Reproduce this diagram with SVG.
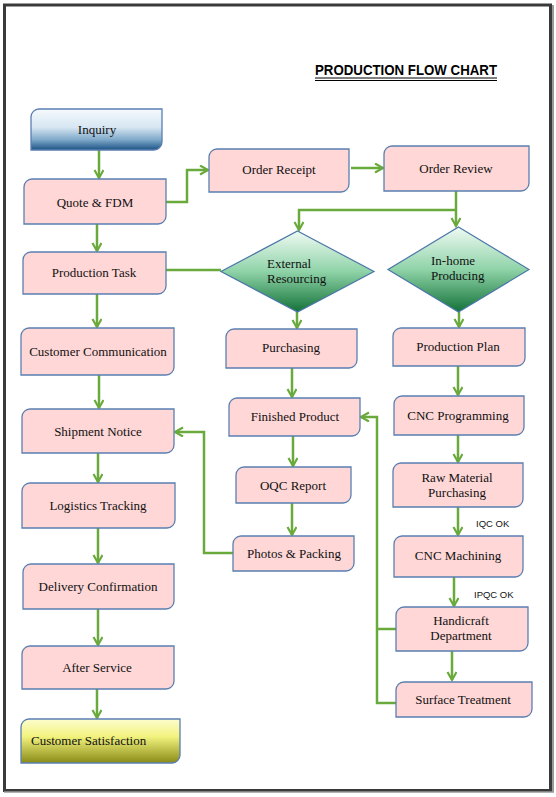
<svg xmlns="http://www.w3.org/2000/svg" width="556" height="797" viewBox="0 0 556 797">
<defs>
<linearGradient id="gBlue" x1="0" y1="0" x2="0" y2="1">
<stop offset="0" stop-color="#f6fafd"/>
<stop offset="0.45" stop-color="#d6e6f2"/>
<stop offset="0.75" stop-color="#7ea8c9"/>
<stop offset="1" stop-color="#1b5385"/>
</linearGradient>
<linearGradient id="gGreen" x1="0" y1="0" x2="0" y2="1">
<stop offset="0" stop-color="#f0faf3"/>
<stop offset="0.5" stop-color="#8fd3a8"/>
<stop offset="1" stop-color="#137238"/>
</linearGradient>
<linearGradient id="gYellow" x1="0" y1="0" x2="0" y2="1">
<stop offset="0" stop-color="#fdfdd0"/>
<stop offset="0.4" stop-color="#f2f27e"/>
<stop offset="1" stop-color="#8a8a16"/>
</linearGradient>
<marker id="arr" markerUnits="userSpaceOnUse" markerWidth="12" markerHeight="12" refX="9" refY="5" orient="auto">
<path d="M1,0.5 L9,5 L1,9.5" fill="none" stroke="#6aaa3c" stroke-width="2.2"/>
</marker>
</defs>
<style>
.box{fill:#ffd7d7;stroke:#5b7fb1;stroke-width:1.3}
.t{font-family:"Liberation Serif","DejaVu Serif",serif;font-size:13px;fill:#111;text-anchor:middle}
.tl{font-family:"Liberation Serif","DejaVu Serif",serif;font-size:13px;fill:#111}
.c{fill:none;stroke:#6aaa3c;stroke-width:2.5}
.lbl{font-family:"Liberation Sans",Arial,sans-serif;font-size:9.5px;fill:#111}
</style>
<rect x="0" y="0" width="556" height="797" fill="#fff"/>
<g id="frame">
<rect x="4.5" y="5" width="546" height="785.5" fill="none" stroke="#3a3a3a" stroke-width="3"/>
<line x1="553" y1="5" x2="553" y2="792" stroke="#9a9a9a" stroke-width="2"/>
<line x1="4" y1="792" x2="554" y2="792" stroke="#9a9a9a" stroke-width="1.5"/>
</g>
<g id="title">
<text x="315" y="75" font-family="'Liberation Sans',Arial,sans-serif" font-weight="bold" font-size="15.5" textLength="182" lengthAdjust="spacingAndGlyphs" fill="#000">PRODUCTION FLOW CHART</text>
<line x1="315" y1="78" x2="497" y2="78" stroke="#000" stroke-width="1"/>
<line x1="315" y1="80.5" x2="497" y2="80.5" stroke="#000" stroke-width="1"/>
</g>
<g id="connectors">
<path class="c" d="M99,150 V178" marker-end="url(#arr)"/>
<path class="c" d="M97,224 V251" marker-end="url(#arr)"/>
<path class="c" d="M166,202 H187 V170 H208" marker-end="url(#arr)"/>
<path class="c" d="M351,168 H383" marker-end="url(#arr)"/>
<path class="c" d="M456,191 V226" marker-end="url(#arr)"/>
<path class="c" d="M456,210 H299 V230" marker-end="url(#arr)"/>
<path class="c" d="M166,270 H221"/>
<path class="c" d="M97,294 V327" marker-end="url(#arr)"/>
<path class="c" d="M99,375 V408" marker-end="url(#arr)"/>
<path class="c" d="M98,453 V482" marker-end="url(#arr)"/>
<path class="c" d="M98,528 V563" marker-end="url(#arr)"/>
<path class="c" d="M98,609 V645" marker-end="url(#arr)"/>
<path class="c" d="M97,689 V718" marker-end="url(#arr)"/>
<path class="c" d="M297,312 V328" marker-end="url(#arr)"/>
<path class="c" d="M292,368 V397" marker-end="url(#arr)"/>
<path class="c" d="M293,436 V466" marker-end="url(#arr)"/>
<path class="c" d="M292,503 V535" marker-end="url(#arr)"/>
<path class="c" d="M233,553 H204 V432 H175" marker-end="url(#arr)"/>
<path class="c" d="M459,312 V327" marker-end="url(#arr)"/>
<path class="c" d="M458,366 V395" marker-end="url(#arr)"/>
<path class="c" d="M458,435 V462" marker-end="url(#arr)"/>
<path class="c" d="M458,507 V535" marker-end="url(#arr)"/>
<path class="c" d="M454,577 V606" marker-end="url(#arr)"/>
<path class="c" d="M452,651 V680" marker-end="url(#arr)"/>
<path class="c" d="M396,629 H377"/>
<path class="c" d="M396,703 H377 V417 H361" marker-end="url(#arr)"/>
<text class="lbl" x="476" y="527">IQC OK</text>
<text class="lbl" x="474" y="598">IPQC OK</text>
</g>
<g id="inquiry">
<path d="M39,109 H162 V142 A8,8 0 0 1 154,150 H31 V117 A8,8 0 0 1 39,109 Z" fill="url(#gBlue)" stroke="#5b7fb1" stroke-width="1.3"/>
<text class="t" x="97" y="134">Inquiry</text>
</g>
<g id="quote">
<path class="box" d="M32,179 H166 V216 A8,8 0 0 1 158,224 H24 V187 A8,8 0 0 1 32,179 Z"/>
<text class="t" x="95" y="207">Quote &amp; FDM</text>
</g>
<g id="production-task">
<path class="box" d="M31,252 H166 V286 A8,8 0 0 1 158,294 H23 V260 A8,8 0 0 1 31,252 Z"/>
<text class="t" x="94" y="277">Production Task</text>
</g>
<g id="order-receipt">
<path class="box" d="M217,149 H349 V184 A8,8 0 0 1 341,192 H209 V157 A8,8 0 0 1 217,149 Z"/>
<text class="t" x="279" y="174">Order Receipt</text>
</g>
<g id="order-review">
<path class="box" d="M392,146 H529 V183 A8,8 0 0 1 521,191 H384 V154 A8,8 0 0 1 392,146 Z"/>
<text class="t" x="456" y="173">Order Review</text>
</g>
<g id="external-resourcing">
<path d="M297.5,231 L374,271.5 L297.5,312 L221,271.5 Z" fill="url(#gGreen)" stroke="#4a76a8" stroke-width="1.2"/>
<text class="tl" x="267" y="268">External</text>
<text class="tl" x="267" y="283">Resourcing</text>
</g>
<g id="in-home-producing">
<path d="M458.5,227 L529,269.5 L458.5,312 L388,269.5 Z" fill="url(#gGreen)" stroke="#4a76a8" stroke-width="1.2"/>
<text class="tl" x="431" y="265">In-home</text>
<text class="tl" x="431" y="280">Producing</text>
</g>
<g id="customer-communication">
<path class="box" d="M29,328 H174 V367 A8,8 0 0 1 166,375 H21 V336 A8,8 0 0 1 29,328 Z"/>
<text class="t" x="98" y="356">Customer Communication</text>
</g>
<g id="shipment-notice">
<path class="box" d="M30,409 H174 V445 A8,8 0 0 1 166,453 H22 V417 A8,8 0 0 1 30,409 Z"/>
<text class="t" x="98" y="436">Shipment Notice</text>
</g>
<g id="logistics-tracking">
<path class="box" d="M30,483 H175 V520 A8,8 0 0 1 167,528 H22 V491 A8,8 0 0 1 30,483 Z"/>
<text class="t" x="98" y="510">Logistics Tracking</text>
</g>
<g id="delivery-confirmation">
<path class="box" d="M31,564 H174 V601 A8,8 0 0 1 166,609 H23 V572 A8,8 0 0 1 31,564 Z"/>
<text class="t" x="98" y="591">Delivery Confirmation</text>
</g>
<g id="after-service">
<path class="box" d="M30,646 H174 V681 A8,8 0 0 1 166,689 H22 V654 A8,8 0 0 1 30,646 Z"/>
<text class="t" x="97" y="672">After Service</text>
</g>
<g id="customer-satisfaction">
<path d="M29,719 H180 V755 A8,8 0 0 1 172,763 H21 V727 A8,8 0 0 1 29,719 Z" fill="url(#gYellow)" stroke="#5b7fb1" stroke-width="1.3"/>
<text class="tl" x="31" y="745">Customer Satisfaction</text>
</g>
<g id="purchasing">
<path class="box" d="M234,329 H357 V360 A8,8 0 0 1 349,368 H226 V337 A8,8 0 0 1 234,329 Z"/>
<text class="t" x="291" y="352">Purchasing</text>
</g>
<g id="finished-product">
<path class="box" d="M237,398 H360 V428 A8,8 0 0 1 352,436 H229 V406 A8,8 0 0 1 237,398 Z"/>
<text class="t" x="295" y="421">Finished Product</text>
</g>
<g id="oqc-report">
<path class="box" d="M244,467 H351 V495 A8,8 0 0 1 343,503 H236 V475 A8,8 0 0 1 244,467 Z"/>
<text class="t" x="293" y="490">OQC Report</text>
</g>
<g id="photos-packing">
<path class="box" d="M241,536 H354 V563 A8,8 0 0 1 346,571 H233 V544 A8,8 0 0 1 241,536 Z"/>
<text class="t" x="294" y="558">Photos &amp; Packing</text>
</g>
<g id="production-plan">
<path class="box" d="M401,328 H525 V358 A8,8 0 0 1 517,366 H393 V336 A8,8 0 0 1 401,328 Z"/>
<text class="t" x="458" y="351">Production Plan</text>
</g>
<g id="cnc-programming">
<path class="box" d="M402,396 H524 V427 A8,8 0 0 1 516,435 H394 V404 A8,8 0 0 1 402,396 Z"/>
<text class="t" x="458" y="420">CNC Programming</text>
</g>
<g id="raw-material-purchasing">
<path class="box" d="M401,463 H523 V499 A8,8 0 0 1 515,507 H393 V471 A8,8 0 0 1 401,463 Z"/>
<text class="t" x="457" y="482">Raw Material</text>
<text class="t" x="457" y="497">Purchasing</text>
</g>
<g id="cnc-machining">
<path class="box" d="M402,536 H523 V569 A8,8 0 0 1 515,577 H394 V544 A8,8 0 0 1 402,536 Z"/>
<text class="t" x="458" y="560">CNC Machining</text>
</g>
<g id="handicraft-department">
<path class="box" d="M404,607 H528 V643 A8,8 0 0 1 520,651 H396 V615 A8,8 0 0 1 404,607 Z"/>
<text class="t" x="461" y="625">Handicraft</text>
<text class="t" x="461" y="640">Department</text>
</g>
<g id="surface-treatment">
<path class="box" d="M404,682 H532 V709 A8,8 0 0 1 524,717 H396 V690 A8,8 0 0 1 404,682 Z"/>
<text class="t" x="463" y="704">Surface Treatment</text>
</g>
</svg>
